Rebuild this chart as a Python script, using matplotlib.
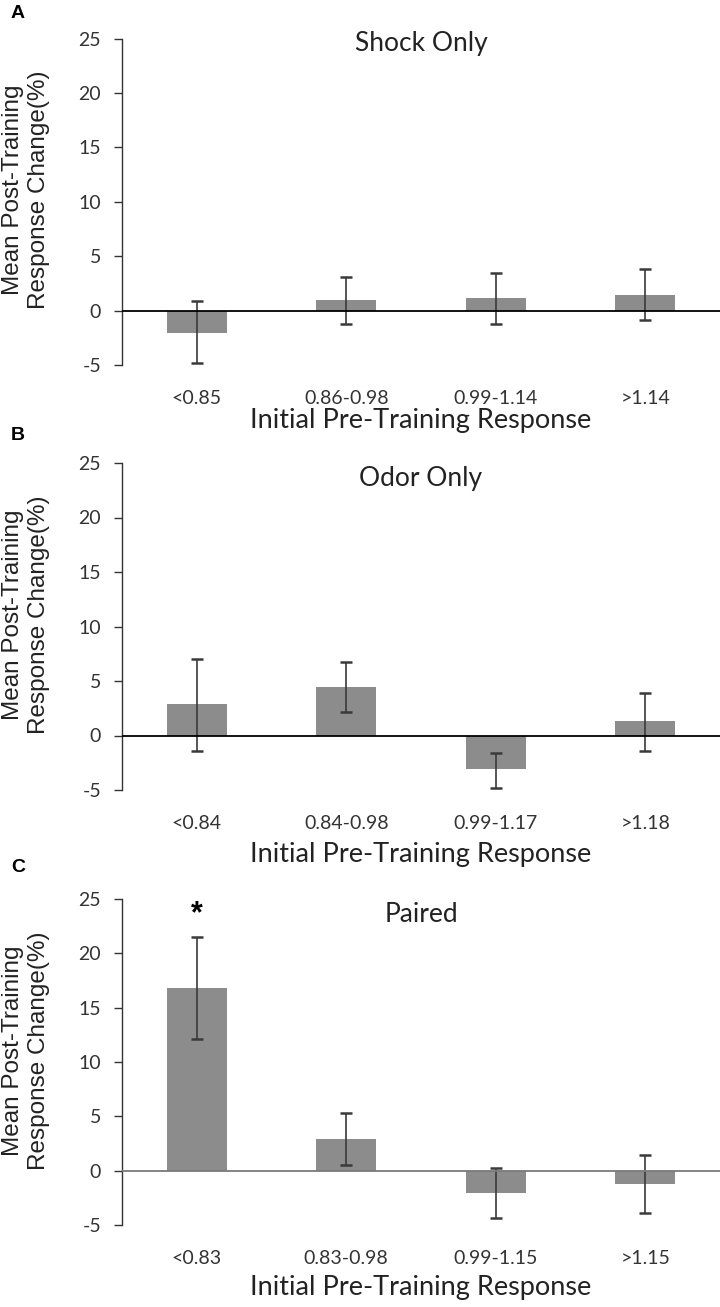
import numpy as np
import matplotlib
matplotlib.use('Agg')
import matplotlib.pyplot as plt

# Datos (media, extremo inferior y superior de la barra de error)
panels = ['A', 'B', 'C']
titles = ['Shock Only', 'Odor Only', 'Paired']

cats_a = ['<0.85', '0.86-0.98', '0.99-1.14', '>1.14']
cats_b = ['<0.84', '0.84-0.98', '0.99-1.17', '>1.18']
cats_c = ['<0.83', '0.83-0.98', '0.99-1.15', '>1.15']

mean_a = [-2.1, 1.0, 1.2, 1.4]
low_a = [-4.8, -1.2, -1.2, -0.85]
high_a = [0.9, 3.1, 3.45, 3.8]

mean_b = [2.9, 4.45, -3.1, 1.3]
low_b = [-1.4, 2.2, -4.85, -1.4]
high_b = [7.05, 6.75, -1.6, 3.9]

mean_c = [16.8, 2.9, -2.05, -1.2]
low_c = [12.1, 0.55, -4.4, -3.85]
high_c = [21.5, 5.35, 0.2, 1.4]

yticks = [-5, 0, 5, 10, 15, 20, 25]

all_cats = [cats_a, cats_b, cats_c]
all_means = [mean_a, mean_b, mean_c]
all_lows = [low_a, low_b, low_c]
all_highs = [high_a, high_b, high_c]

narrow = ['Lato', 'DejaVu Sans']
arial = ['Liberation Sans', 'DejaVu Sans']

fig = plt.figure(figsize=(7.2, 13.07), dpi=100)

# posiciones de los ejes en pixeles (arriba de 25, abajo de -5)
tops = [38.7, 463, 899]
bottoms = [365, 790, 1225]
title_y = [24.6, 23.6, 23.6]
letter_y = [14, 436, 868]
xlab_pad = [1, 7, 6]
H = 1307.0

for i in range(3):
    ax = fig.add_axes([122 / 720, 1 - bottoms[i] / H, 598 / 720, (bottoms[i] - tops[i]) / H])
    x = np.arange(4)
    m = np.array(all_means[i])
    yerr = [m - np.array(all_lows[i]), np.array(all_highs[i]) - m]
    ax.bar(x, m, width=0.4, color='#8c8c8c', zorder=2)
    ax.errorbar(x, m, yerr=yerr, fmt='none', ecolor='#3a3a3a', elinewidth=1.2,
                capsize=4.5, capthick=1.8, zorder=3)
    zc = '#7a7a7a' if i == 2 else 'black'
    ax.axhline(0, color=zc, lw=1.3, zorder=4)

    ax.set_xlim(-0.5, 3.5)
    ax.set_ylim(-5, 25)
    ax.set_yticks(yticks)
    ax.set_yticklabels([str(t) for t in yticks], family=narrow, fontsize=14, color='#333333')
    ax.set_xticks(x)
    ax.set_xticklabels(all_cats[i], family=narrow, fontsize=14, color='#333333')
    ax.tick_params(axis='x', length=0, pad=18)
    ax.tick_params(axis='y', length=6, width=1, color='#333333', pad=9)
    for s in ['top', 'right', 'bottom']:
        ax.spines[s].set_visible(False)
    ax.spines['left'].set_color('#333333')
    ax.spines['left'].set_linewidth(1)

    ax.set_xlabel('Initial Pre-Training Response', family=narrow, fontsize=19.5,
                  color='#222222', labelpad=xlab_pad[i])
    ax.text(-0.16, 0.536, 'Mean Post-Training\nResponse Change(%)', transform=ax.transAxes,
            rotation=90, ha='center', va='center', family=arial, fontsize=17.5,
            color='#222222', linespacing=1.25)
    ax.text(1.5, title_y[i], titles[i], ha='center', va='center', family=narrow,
            fontsize=19, color='#222222')
    fig.text(11 / 720, 1 - letter_y[i] / H, panels[i], family=arial, fontsize=14,
             fontweight='bold', ha='left', va='center')

# asterisco de significancia en el panel C
ax.text(0, 23.6, '*', ha='center', va='center', fontsize=22, fontweight='bold', family=arial)

fig.savefig('out.png', dpi=100)
